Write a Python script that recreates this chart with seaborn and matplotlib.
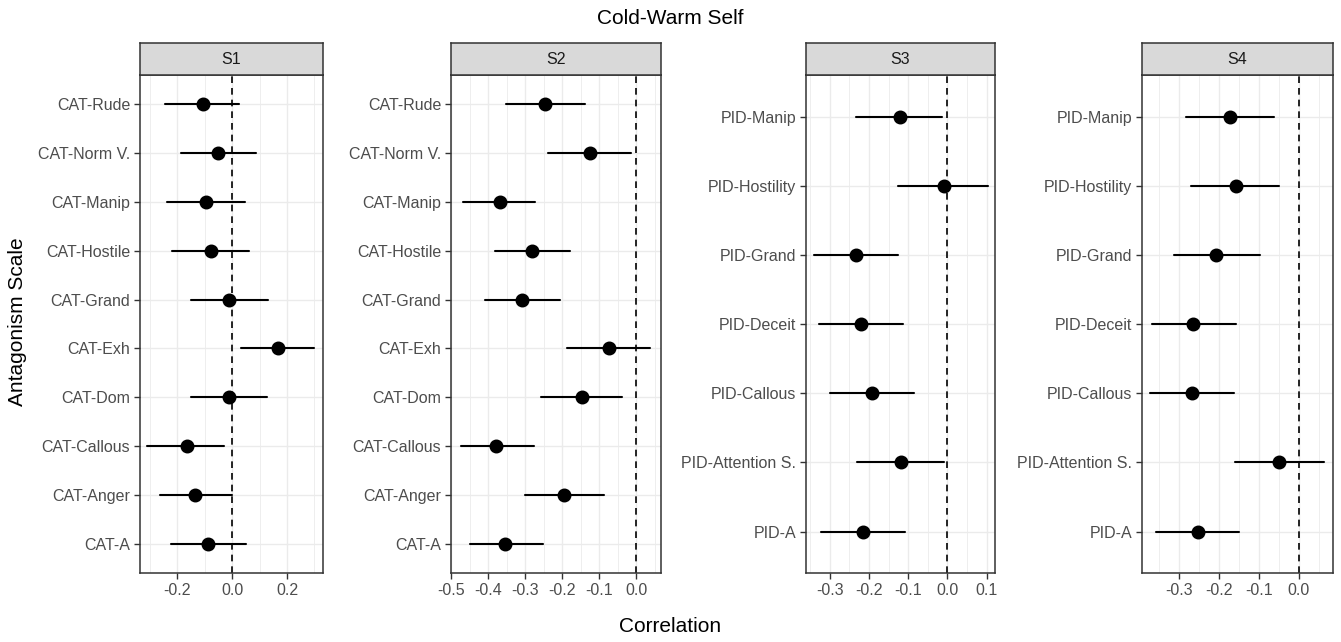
import matplotlib
matplotlib.use("Agg")
import matplotlib.pyplot as plt
import matplotlib.ticker as mticker
import numpy as np
import pandas as pd
import seaborn as sns

# ---------------- data ----------------
s1_scales = ["CAT-Rude", "CAT-Norm V.", "CAT-Manip", "CAT-Hostile", "CAT-Grand",
             "CAT-Exh", "CAT-Dom", "CAT-Callous", "CAT-Anger", "CAT-A"]
s1_r = [-0.104, -0.052, -0.095, -0.076, -0.012, 0.168, -0.012, -0.165, -0.135, -0.086]
s1_lo = [-0.244, -0.185, -0.238, -0.219, -0.150, 0.033, -0.150, -0.310, -0.264, -0.223]
s1_hi = [0.027, 0.087, 0.047, 0.062, 0.132, 0.299, 0.126, -0.028, 0.001, 0.051]

s2_scales = s1_scales
s2_r = [-0.246, -0.125, -0.369, -0.280, -0.308, -0.074, -0.146, -0.378, -0.195, -0.353]
s2_lo = [-0.351, -0.237, -0.467, -0.381, -0.409, -0.188, -0.256, -0.472, -0.300, -0.450]
s2_hi = [-0.137, -0.013, -0.273, -0.179, -0.206, 0.038, -0.038, -0.277, -0.086, -0.251]

s3_scales = ["PID-Manip", "PID-Hostility", "PID-Grand", "PID-Deceit",
             "PID-Callous", "PID-Attention S.", "PID-A"]
s3_r = [-0.122, -0.010, -0.232, -0.220, -0.192, -0.119, -0.216]
s3_lo = [-0.232, -0.125, -0.339, -0.326, -0.298, -0.229, -0.322]
s3_hi = [-0.013, 0.103, -0.127, -0.112, -0.085, -0.008, -0.109]

s4_scales = s3_scales
s4_r = [-0.172, -0.157, -0.206, -0.264, -0.268, -0.048, -0.252]
s4_lo = [-0.281, -0.269, -0.311, -0.368, -0.371, -0.160, -0.358]
s4_hi = [-0.062, -0.049, -0.097, -0.158, -0.162, 0.063, -0.148]

panel_names = ["S1", "S2", "S3", "S4"]
s1_ticks = [-0.2, 0.0, 0.2]
s2_ticks = [-0.5, -0.4, -0.3, -0.2, -0.1, 0.0]
s3_ticks = [-0.3, -0.2, -0.1, 0.0, 0.1]
s4_ticks = [-0.3, -0.2, -0.1, 0.0]

title = "Cold-Warm Self"
xlabel = "Correlation"
ylabel = "Antagonism Scale"

# ---------------- style ----------------
sns.set_theme(style="white")
plt.rcParams["font.family"] = ["Liberation Sans", "DejaVu Sans"]
plt.rcParams["axes.unicode_minus"] = False

W, H = 1341, 642
fig = plt.figure(figsize=(W / 100, H / 100), dpi=100)

panels = [
    (s1_scales, s1_r, s1_lo, s1_hi, s1_ticks, 0.1, (-0.335, 0.331), (140, 323)),
    (s2_scales, s2_r, s2_lo, s2_hi, s2_ticks, 0.05, (-0.497, 0.067), (451, 661)),
    (s3_scales, s3_r, s3_lo, s3_hi, s3_ticks, 0.05, (-0.360, 0.121), (806, 995)),
    (s4_scales, s4_r, s4_lo, s4_hi, s4_ticks, 0.05, (-0.392, 0.086), (1142, 1333)),
]

top_px, bot_px, strip_top_px = 75, 573, 43
tick_col = "#4D4D4D"
edge_col = "#333333"
grid_col = "#EBEBEB"

for name, (scales, r, lo, hi, ticks, minor_step, xlim, (x0, x1)) in zip(panel_names, panels):
    ax = fig.add_axes([x0 / W, (H - bot_px) / H, (x1 - x0) / W, (bot_px - top_px) / H])
    long = pd.DataFrame({
        "scale": list(scales) * 3,
        "r": list(lo) + list(r) + list(hi),
    })
    ax.axvline(0, color="black", lw=1.2, ls=(0, (4, 3)), zorder=2)
    sns.pointplot(data=long, x="r", y="scale", order=scales, estimator="median",
                  errorbar=("pi", 100), color="black", linestyle="none",
                  markersize=8, capsize=0, err_kws={"linewidth": 1.5}, ax=ax,
                  zorder=3)
    n = len(scales)
    ax.set_ylim(n - 1 + 0.6, -0.6)
    ax.set_xlim(*xlim)
    ax.set_xticks(ticks)
    ax.xaxis.set_major_formatter(mticker.FormatStrFormatter("%.1f"))
    ax.xaxis.set_minor_locator(mticker.MultipleLocator(minor_step))
    ax.set_axisbelow(True)
    ax.grid(True, which="major", axis="both", color=grid_col, lw=1.0)
    ax.grid(True, which="minor", axis="x", color=grid_col, lw=0.6)
    ax.yaxis.grid(True, color=grid_col, lw=1.0)
    ax.tick_params(axis="both", which="major", length=4, width=1.0, color=edge_col,
                   labelcolor=tick_col, labelsize=11.5, pad=3, bottom=True, left=True)
    ax.tick_params(axis="x", which="minor", length=0)
    ax.set_xlabel("")
    ax.set_ylabel("")
    for sp in ax.spines.values():
        sp.set_color(edge_col)
        sp.set_linewidth(1.1)
        sp.set_visible(True)

    sax = fig.add_axes([x0 / W, (H - top_px) / H, (x1 - x0) / W, (top_px - strip_top_px) / H])
    sax.set_facecolor("#D9D9D9")
    sax.set_xticks([])
    sax.set_yticks([])
    for sp in sax.spines.values():
        sp.set_color(edge_col)
        sp.set_linewidth(1.1)
        sp.set_visible(True)
    sax.text(0.5, 0.5, name, ha="center", va="center", fontsize=11.5,
             color="#1A1A1A", transform=sax.transAxes)

fig.text(670 / W, 1 - 19 / H, title, ha="center", va="center", fontsize=15, color="black")
fig.text(670 / W, 1 - 626 / H, xlabel, ha="center", va="center", fontsize=15, color="black")
fig.text(18 / W, 1 - 322 / H, ylabel, ha="center", va="center", rotation=90,
         fontsize=15, color="black")

fig.savefig("out.png", dpi=100, facecolor="white")
